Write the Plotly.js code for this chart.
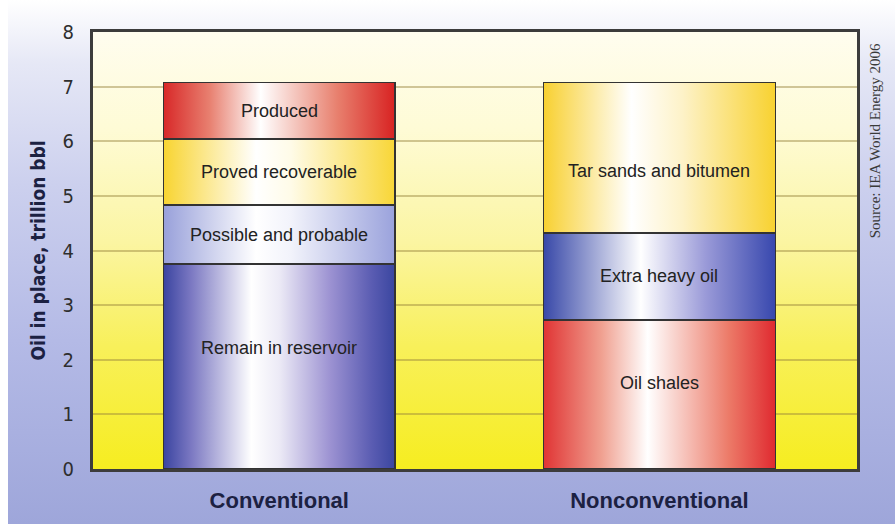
<!DOCTYPE html>
<html>
<head>
<meta charset="utf-8">
<script src="https://cdn.plot.ly/plotly-3.0.1.min.js"></script>
<style>
  html, body { margin: 0; padding: 0; background: #ffffff; }
  #wrap {
    position: relative; width: 895px; height: 524px; overflow: hidden;
    background:
      linear-gradient(to right, #ffffff 0px, #ffffff 8px, rgba(255,255,255,0) 8px),
      linear-gradient(to bottom, #ffffff 0%, #e6e8f6 12%, #ccd0ee 35%, #b4bae6 65%, #9ea6da 100%);
  }
  #plotbg {
    position: absolute;
    background: linear-gradient(to bottom, #fffdef 0%, #fefbd6 22%, #fbf5a2 48%, #f8f05a 72%, #f6ed20 100%);
  }
  #chart { position: absolute; left: 0; top: 0; width: 895px; height: 524px; }
</style>
</head>
<body>
<div id="wrap">
  <div id="plotbg"></div>
  <div id="chart"></div>
</div>
<script>
// Oil in place, trillion barrels
const categories = ['Conventional', 'Nonconventional'];

const conventionalSegments = ['Remain in reservoir', 'Possible and probable', 'Proved recoverable', 'Produced'];
const conventionalValues   = [3.75, 1.08, 1.21, 1.04];

const nonconventionalSegments = ['Oil shales', 'Extra heavy oil', 'Tar sands and bitumen'];
const nonconventionalValues   = [2.73, 1.59, 2.76];

const yTickValues = [0, 1, 2, 3, 4, 5, 6, 7, 8];

// Horizontal "cylinder" shading for each segment: [offset, colour]
const segmentShading = {
  'Remain in reservoir':   [[0, '#3a44a0'], [0.12, '#7b78c2'], [0.38, '#ffffff'], [0.5, '#eceaf6'], [0.72, '#9c92d2'], [0.9, '#5a5cb2'], [1, '#3a46a0']],
  'Possible and probable': [[0, '#98a0da'], [0.4, '#ffffff'], [0.55, '#f2f3fb'], [1, '#9aa2dc']],
  'Proved recoverable':    [[0, '#f8d430'], [0.4, '#ffffff'], [0.55, '#fffbe8'], [1, '#f8d636']],
  'Produced':              [[0, '#d82828'], [0.2, '#e88070'], [0.42, '#ffffff'], [0.75, '#e8806e'], [1, '#d82222']],
  'Oil shales':            [[0, '#e03434'], [0.25, '#f0a090'], [0.45, '#ffffff'], [0.8, '#ec7a68'], [1, '#e02a30']],
  'Extra heavy oil':       [[0, '#3848a8'], [0.42, '#ffffff'], [0.7, '#9a9ad8'], [1, '#3848ae']],
  'Tar sands and bitumen': [[0, '#f8d030'], [0.38, '#ffffff'], [0.6, '#fdf2c8'], [1, '#f8d230']]
};

// Label nudges (px) for the tall segments whose labels sit off-centre
const labelNudge = { 'Remain in reservoir': 19, 'Oil shales': 11, 'Tar sands and bitumen': -13 };

const labelFont = { family: 'Liberation Sans, Arial, sans-serif', size: 18, color: '#222222' };
const narrowFont = 'Liberation Sans Narrow, Arial Narrow, DejaVu Sans Condensed, sans-serif';

const traces = [];
const annotations = [];
const gradientIds = [];

function addStack(category, names, values) {
  let base = 0;
  names.forEach((name, i) => {
    const v = values[i];
    traces.push({
      type: 'bar',
      name: name,
      x: [category],
      y: [v],
      width: 0.61,
      marker: { color: segmentShading[name][0][1], line: { color: '#333333', width: 1.5 } },
      hoverinfo: 'name+y',
      showlegend: false
    });
    gradientIds.push('shade-' + traces.length);
    annotations.push({
      x: category, y: base + v / 2, xref: 'x', yref: 'y',
      text: name, showarrow: false, font: labelFont,
      yshift: labelNudge[name] || 0
    });
    base += v;
  });
}
addStack(categories[0], conventionalSegments, conventionalValues);
addStack(categories[1], nonconventionalSegments, nonconventionalValues);

annotations.push({
  xref: 'paper', yref: 'paper', x: 1.0236, y: 0.75, xanchor: 'center', yanchor: 'middle',
  text: 'Source: IEA World Energy 2006', textangle: -90, showarrow: false,
  font: { family: 'Liberation Serif, Times New Roman, serif', size: 15, color: '#3a3a3a' }
});

const layout = {
  width: 895, height: 524,
  margin: { l: 93, r: 38, t: 32, b: 55 },
  paper_bgcolor: 'rgba(0,0,0,0)',
  plot_bgcolor: 'rgba(0,0,0,0)',
  barmode: 'stack',
  bargap: 0.39,
  xaxis: {
    type: 'category', range: [-0.49, 1.52],
    showline: true, mirror: true, linecolor: '#3c3c3c', linewidth: 3,
    showgrid: false, ticks: '', ticklabelstandoff: 10,
    tickfont: { family: 'Liberation Sans, Arial, sans-serif', size: 22, color: '#1c2142', weight: 'bold' }
  },
  yaxis: {
    range: [0, 8], tickvals: yTickValues, ticktext: yTickValues.map(String),
    showline: true, mirror: true, linecolor: '#3c3c3c', linewidth: 3,
    showgrid: true, gridcolor: 'rgba(150,130,60,0.45)', gridwidth: 2,
    zeroline: false, ticks: '', ticklabelstandoff: 12,
    tickfont: { family: narrowFont, size: 20, color: '#2e2e2e' },
    title: {
      text: 'Oil in place, trillion bbl', standoff: 12,
      font: { family: narrowFont, size: 19, color: '#1c2142', weight: 'bold' }
    }
  },
  annotations: annotations
};

const gd = document.getElementById('chart');

function applyShading() {
  const size = gd._fullLayout._size;
  const bg = document.getElementById('plotbg');
  bg.style.left = size.l + 'px';
  bg.style.top = size.t + 'px';
  bg.style.width = size.w + 'px';
  bg.style.height = size.h + 'px';

  const svg = gd.querySelector('svg.main-svg');
  let defs = svg.querySelector('defs');
  if (!defs) {
    defs = document.createElementNS('http://www.w3.org/2000/svg', 'defs');
    svg.insertBefore(defs, svg.firstChild);
  }
  const ns = 'http://www.w3.org/2000/svg';
  traces.forEach((t, i) => {
    const id = gradientIds[i];
    if (!document.getElementById(id)) {
      const lg = document.createElementNS(ns, 'linearGradient');
      lg.setAttribute('id', id);
      lg.setAttribute('x1', '0'); lg.setAttribute('y1', '0');
      lg.setAttribute('x2', '1'); lg.setAttribute('y2', '0');
      segmentShading[t.name].forEach(([off, col]) => {
        const s = document.createElementNS(ns, 'stop');
        s.setAttribute('offset', off);
        s.setAttribute('stop-color', col);
        lg.appendChild(s);
      });
      defs.appendChild(lg);
    }
  });
  const groups = gd.querySelectorAll('.barlayer .trace.bars');
  groups.forEach((g, i) => {
    g.querySelectorAll('.point path').forEach(p => {
      p.style.fill = 'url(#' + gradientIds[i] + ')';
    });
  });
}

Plotly.newPlot(gd, traces, layout, { displayModeBar: false, staticPlot: true }).then(() => {
  applyShading();
  gd.on('plotly_afterplot', applyShading);
});
</script>
</body>
</html>
